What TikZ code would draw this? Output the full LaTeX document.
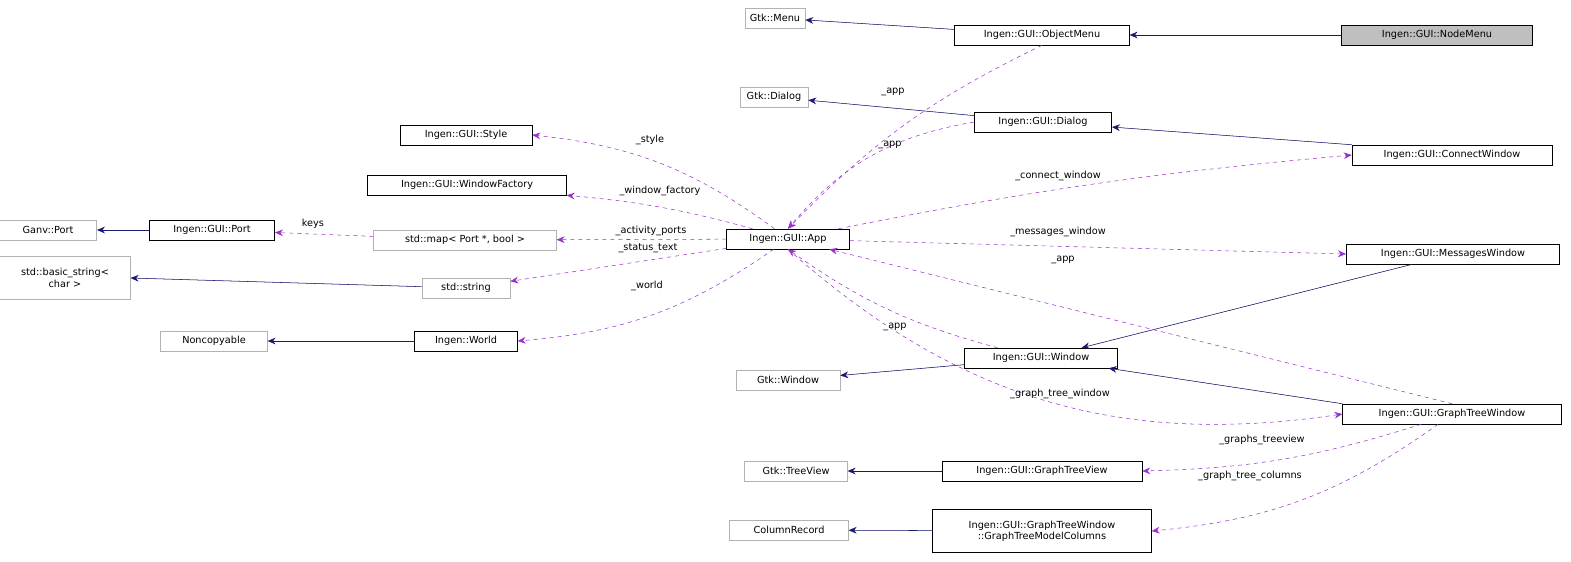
\documentclass[tikz,border=0pt]{standalone}
\usepackage{fontspec}
\setmainfont{DejaVu Sans}
\usetikzlibrary{arrows.meta}
\definecolor{inhcol}{RGB}{25,25,112}
\definecolor{usecol}{RGB}{153,50,204}
\begin{document}
\begin{tikzpicture}[
x=0.75pt, y=-0.75pt,
every node/.style={font=\fontsize{7.3}{8.5}\selectfont},
cls/.style={draw=black, fill=white, minimum height=15pt, inner sep=1pt},
ext/.style={draw=gray!60, fill=white, minimum height=15pt, inner sep=1pt},
inh/.style={draw=inhcol, -{Stealth[length=6pt,width=5pt]}, fill=inhcol},
use/.style={draw=usecol, dashed, -{Stealth[length=6pt,width=5pt,fill=usecol]}},
lbl/.style={inner sep=1pt},
]
\useasboundingbox (0,0) rectangle (1571,561);
%Nodes
\node[ext, minimum width=45pt]  (gtkmenu)   at (775,18)  {Gtk::Menu};
\node[cls, minimum width=131pt] (objmenu)   at (1042,35) {Ingen::GUI::ObjectMenu};
\node[cls, minimum width=143pt, fill=gray!50] (nodemenu) at (1437,35) {Ingen::GUI::NodeMenu};
\node[ext, minimum width=51pt]  (gtkdialog) at (774,97)  {Gtk::Dialog};
\node[cls, minimum width=103pt] (dialog)    at (1043,122) {Ingen::GUI::Dialog};
\node[cls, minimum width=150pt] (connwin)   at (1452,155) {Ingen::GUI::ConnectWindow};
\node[cls, minimum width=99pt]  (style)     at (466,135) {Ingen::GUI::Style};
\node[cls, minimum width=149pt] (winfact)   at (467,185) {Ingen::GUI::WindowFactory};
\node[ext, minimum width=73pt]  (ganvport)  at (48,230)  {Ganv::Port};
\node[cls, minimum width=94pt]  (guiport)   at (212,230) {Ingen::GUI::Port};
\node[ext, minimum width=137pt] (portmap)   at (465,240) {std::map< Port *, bool >};
\node[cls, minimum width=92pt]  (app)       at (788,239) {Ingen::GUI::App};
\node[cls, minimum width=160pt] (msgwin)    at (1453,254) {Ingen::GUI::MessagesWindow};
\node[ext, minimum width=98pt, minimum height=32pt, align=center] (basicstr) at (65,278) {std::basic\_string<\\char >};
\node[ext, minimum width=66pt]  (stdstring) at (466,288) {std::string};
\node[ext, minimum width=80pt]  (noncopy)   at (214,341) {Noncopyable};
\node[cls, minimum width=77pt]  (world)     at (466,341) {Ingen::World};
\node[cls, minimum width=115pt] (window)    at (1041,358) {Ingen::GUI::Window};
\node[ext, minimum width=78pt]  (gtkwindow) at (788,380) {Gtk::Window};
\node[cls, minimum width=164pt] (gtwin)     at (1452,414) {Ingen::GUI::GraphTreeWindow};
\node[ext, minimum width=77pt]  (gtktree)   at (796,471) {Gtk::TreeView};
\node[cls, minimum width=150pt] (gtview)    at (1042,471) {Ingen::GUI::GraphTreeView};
\node[ext, minimum width=89pt]  (colrec)    at (789,530) {ColumnRecord};
\node[cls, minimum width=164pt, minimum height=32pt, align=center] (gtcols) at (1042,531) {Ingen::GUI::GraphTreeWindow\\::GraphTreeModelColumns};

%Inheritance
\draw[inh] (objmenu) -- (gtkmenu);
\draw[inh] (nodemenu) -- (objmenu);
\draw[inh] (dialog) -- (gtkdialog);
\draw[inh] (connwin.north west) -- (dialog);
\draw[inh] (msgwin) -- (window);
\draw[inh] (gtwin.north west) -- (window);
\draw[inh] (window) -- (gtkwindow);
\draw[inh] (gtview) -- (gtktree);
\draw[inh] (gtcols) -- (colrec);
\draw[inh] (guiport) -- (ganvport);
\draw[inh] (stdstring) -- (basicstr.east);
\draw[inh] (world) -- (noncopy);

%Usage
\draw[use] (objmenu.south) to[bend right=10] (app.north);
\draw[use] (dialog.west) to[bend right=20] (app.north);
\draw[use] (app) to[bend right=15] (style.east);
\draw[use] (app) to[bend right=5] (winfact.south east);
\draw[use] (portmap) -- (guiport);
\draw[use] (app) -- (portmap);
\draw[use] (app) -- (stdstring);
\draw[use] (app) to[bend left=15] (world.east);
\draw[use] (app) to[bend left=3] (connwin.west);
\draw[use] (app) -- (msgwin.west);
\draw[use] (gtwin.north) -- (app);
\draw[use] (window) to[bend left=10] (app.south);
\draw[use] (app.south) to[bend right=25] (gtwin.west);
\draw[use] (gtwin) to[bend left=8] (gtview.east);
\draw[use] (gtwin) to[bend left=15] (gtcols.east);

%Labels
\node[lbl] (l1)  at (893,92)   {\_app};
\node[lbl] (l2)  at (890,145)  {\_app};
\node[lbl] (l3)  at (650,140)  {\_style};
\node[lbl] (l4)  at (660,191)  {\_window\_factory};
\node[lbl] (l5)  at (313,224)  {keys};
\node[lbl] (l6)  at (651,231)  {\_activity\_ports};
\node[lbl] (l7)  at (648,248)  {\_status\_text};
\node[lbl] (l8)  at (647,286)  {\_world};
\node[lbl] (l9)  at (1058,176) {\_connect\_window};
\node[lbl] (l10) at (1058,232) {\_messages\_window};
\node[lbl] (l11) at (1063,260) {\_app};
\node[lbl] (l12) at (895,327)  {\_app};
\node[lbl] (l13) at (1060,394) {\_graph\_tree\_window};
\node[lbl] (l14) at (1262,440) {\_graphs\_treeview};
\node[lbl] (l15) at (1250,476) {\_graph\_tree\_columns};
\end{tikzpicture}
\end{document}
